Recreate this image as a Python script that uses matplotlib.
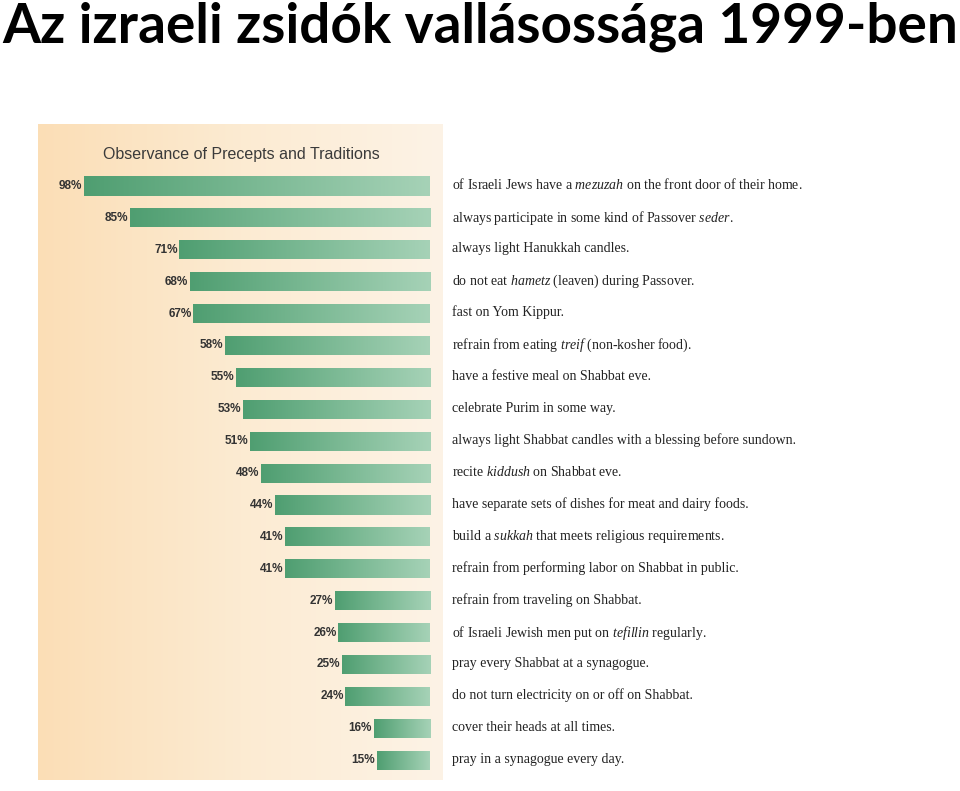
import matplotlib

matplotlib.use("Agg")
import matplotlib.pyplot as plt
import matplotlib.transforms as mtransforms
from matplotlib.colors import LinearSegmentedColormap
import numpy as np

TITLE = "Az izraeli zsidók vallásossága 1999-ben"
PANEL_TITLE = "Observance of Precepts and Traditions"

percents = [98, 85, 71, 68, 67, 58, 55, 53, 51, 48, 44, 41, 41, 27, 26, 25, 24, 16, 15]
descriptions = [
    r"of Israeli Jews have a $\mathit{mezuzah}$ on the front door of their home.",
    r"always participate in some kind of Passover $\mathit{seder}$.",
    "always light Hanukkah candles.",
    r"do not eat $\mathit{hametz}$ (leaven) during Passover.",
    "fast on Yom Kippur.",
    r"refrain from eating $\mathit{treif}$ (non-kosher food).",
    "have a festive meal on Shabbat eve.",
    "celebrate Purim in some way.",
    "always light Shabbat candles with a blessing before sundown.",
    r"recite $\mathit{kiddush}$ on Shabbat eve.",
    "have separate sets of dishes for meat and dairy foods.",
    r"build a $\mathit{sukkah}$ that meets religious requirements.",
    "refrain from performing labor on Shabbat in public.",
    "refrain from traveling on Shabbat.",
    r"of Israeli Jewish men put on $\mathit{tefillin}$ regularly.",
    "pray every Shabbat at a synagogue.",
    "do not turn electricity on or off on Shabbat.",
    "cover their heads at all times.",
    "pray in a synagogue every day.",
]

plt.rcParams["mathtext.fontset"] = "custom"
plt.rcParams["mathtext.rm"] = "Liberation Serif"
plt.rcParams["mathtext.it"] = "Liberation Serif:italic"

W, H = 960, 791
fig = plt.figure(figsize=(W / 100, H / 100), dpi=100)

# beige panel from x=38..443 px, y=124..780 px
px_left, px_right, px_top, px_bot = 38, 443, 124, 780
ax = fig.add_axes([px_left / W, 1 - px_bot / H, (px_right - px_left) / W, (px_bot - px_top) / H])
ax.set_axis_off()

scale = 3.53  # px per percent
row = 31.9    # px per row
zero_px = 430
first_row_px = 186
xlim = ((zero_px - px_left) / scale, (zero_px - px_right) / scale)
ylim = ((px_bot - first_row_px) / row, (px_top - first_row_px) / row)

# panel background gradient
bg_cmap = LinearSegmentedColormap.from_list("bg", ["#fbdeb6", "#fcebd2", "#fdf3e6"])
grad = np.linspace(0, 1, 256).reshape(1, -1)
ax.imshow(grad, cmap=bg_cmap, aspect="auto", extent=(*xlim, *ylim), zorder=0,
          interpolation="bicubic")

bar_cmap = LinearSegmentedColormap.from_list("bar", ["#4f9e71", "#7bb994", "#a6d2b7"])
y = np.arange(len(percents))
bars = ax.barh(y, percents, height=0.6, color="none", edgecolor="none", zorder=2)
for bar, p in zip(bars, percents):
    y0 = bar.get_y()
    im = ax.imshow(grad, cmap=bar_cmap, aspect="auto",
                   extent=(p, 0, y0 + bar.get_height(), y0), zorder=2, interpolation="bicubic")
    im.set_clip_path(bar)
    ax.text(p + 0.5, y0 + bar.get_height() / 2, f"{p}%", ha="right", va="center",
            fontsize=8.5, fontweight="bold", color="#333333", family="Liberation Sans", zorder=3)

ax.set_xlim(*xlim)
ax.set_ylim(*ylim)

ax.text(0.5 * (107 + 376 - 2 * px_left) / (px_right - px_left), 1 - (154 - px_top) / (px_bot - px_top),
        PANEL_TITLE, transform=ax.transAxes, ha="center", va="center", fontsize=11.5,
        color="#3a3a3a", family="Liberation Sans")

# descriptions on the right, one per row
trans = mtransforms.blended_transform_factory(fig.transFigure, ax.transData)
for yi, desc in zip(y, descriptions):
    ax.text(452 / W, yi - 0.08, desc, transform=trans, ha="left", va="center_baseline",
            fontsize=10, color="#222222", family="Liberation Serif", clip_on=False)

# big slide title, fit to width
t = fig.text(2 / W, 1 - 1 / H, TITLE, ha="left", va="top", fontsize=40,
             fontweight="bold", family="Lato", color="black")
fig.canvas.draw()
bb = t.get_window_extent()
t.set_fontsize(40 * 955 / bb.width)

fig.savefig("out.png", dpi=100)
